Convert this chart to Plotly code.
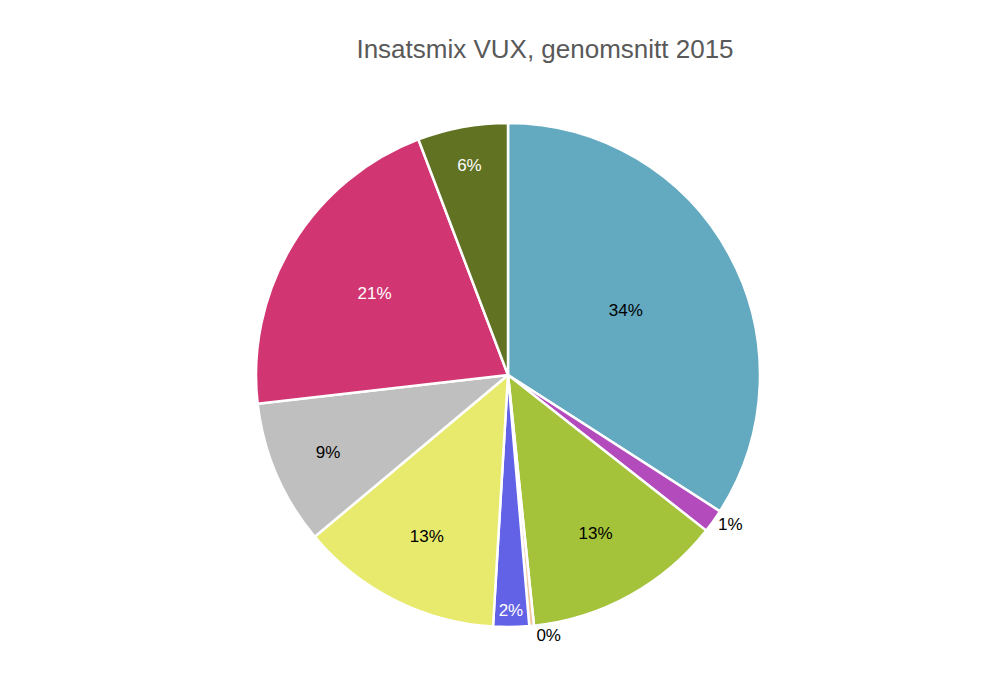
import plotly.graph_objects as go

categories = ["Kategori 1", "Kategori 2", "Kategori 3", "Kategori 4", "Kategori 5",
              "Kategori 6", "Kategori 7", "Kategori 8", "Kategori 9"]
values = [34.2, 1.5, 12.8, 0.3, 2.3, 13.0, 9.3, 21.1, 5.8]
colors = ["#63a9bf", "#b44bbd", "#a4c23a", "#f0c8a0", "#6262e6",
          "#e8ea6e", "#bfbfbf", "#d23672", "#617223"]
text_colors = ["black", "black", "black", "black", "white",
               "black", "black", "white", "white"]

fig = go.Figure(go.Pie(
    labels=categories, values=values, sort=False, direction="clockwise",
    rotation=0, marker=dict(colors=colors, line=dict(color="white", width=2.5)),
    textinfo="percent", texttemplate="%{percent:.0%}",
    textposition="auto",
    insidetextfont=dict(color=text_colors, size=17, family="Liberation Sans"),
    outsidetextfont=dict(color="black", size=17, family="Liberation Sans"),
    insidetextorientation="horizontal",
    showlegend=False, hoverinfo="label+percent",
))
fig.update_layout(
    width=1000, height=681, paper_bgcolor="white",
    title=dict(text="Insatsmix VUX, genomsnitt 2015", x=0.537, xanchor="center", y=0.953,
               font=dict(size=26, color="#595959", family="Liberation Sans")),
    margin=dict(t=115, b=62, l=100, r=100),
)
fig.write_html("out.html")
